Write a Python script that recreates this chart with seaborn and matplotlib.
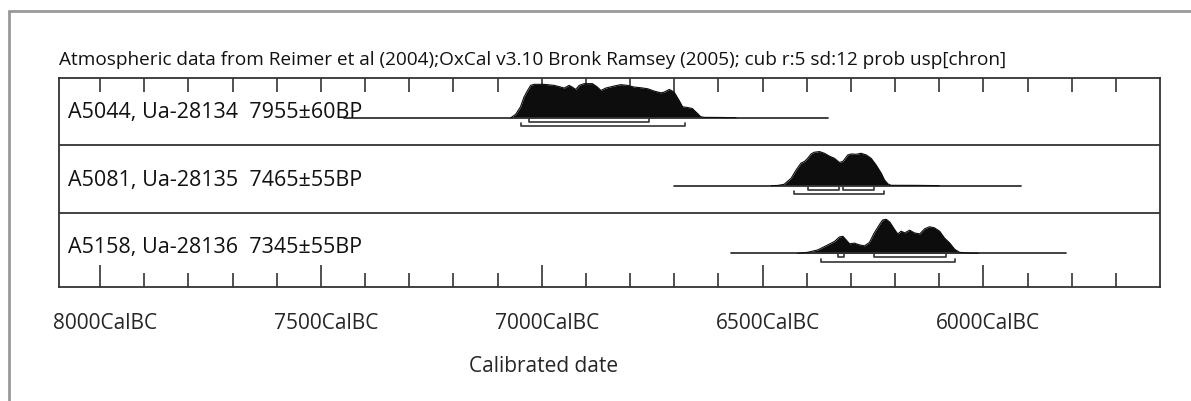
import numpy as np
import matplotlib
matplotlib.use("Agg")
import matplotlib.pyplot as plt
from matplotlib.lines import Line2D
import matplotlib.transforms as mtransforms
import seaborn as sns

# --- data (years BC) ---
labels = ["A5044, Ua-28134  7955±60BP",
          "A5081, Ua-28135  7465±55BP",
          "A5158, Ua-28136  7345±55BP"]

r1_years = [7070, 7059, 7048, 7040, 7032, 7025, 7017, 6995, 6972, 6957, 6949, 6938,
            6931, 6923, 6915, 6904, 6885, 6874, 6866, 6855, 6836, 6821, 6806, 6791,
            6776, 6760, 6745, 6730, 6723, 6711, 6700, 6689, 6681, 6670, 6659, 6647,
            6640, 6632, 6600, 6560]
r1_prob = [0.0, 0.10, 0.32, 0.61, 0.80, 0.95, 0.98, 0.98, 0.95, 0.90, 0.87, 0.95,
           0.90, 0.83, 0.95, 1.0, 1.0, 0.90, 0.80, 0.87, 0.93, 0.97, 0.95, 0.90,
           0.88, 0.85, 0.78, 0.73, 0.75, 0.83, 0.75, 0.51, 0.32, 0.30, 0.27, 0.12,
           0.03, 0.01, 0.008, 0.0]

r2_years = [6480, 6466, 6451, 6435, 6424, 6413, 6405, 6398, 6390, 6383, 6371, 6360,
            6349, 6337, 6326, 6318, 6307, 6299, 6288, 6277, 6265, 6254, 6243, 6231,
            6224, 6216, 6209, 6150, 6100]
r2_prob = [0.0, 0.005, 0.04, 0.22, 0.46, 0.66, 0.71, 0.80, 0.93, 0.98, 1.0, 0.95,
           0.87, 0.80, 0.68, 0.71, 0.90, 0.93, 0.92, 0.95, 0.90, 0.80, 0.61, 0.36,
           0.17, 0.05, 0.01, 0.008, 0.0]

r3_years = [6420, 6398, 6375, 6352, 6337, 6326, 6318, 6311, 6303, 6292, 6281, 6269,
            6258, 6247, 6235, 6228, 6220, 6212, 6201, 6194, 6186, 6178, 6167, 6156,
            6144, 6133, 6122, 6111, 6099, 6088, 6076, 6065, 6054, 6035, 6012]
r3_prob = [0.0, 0.03, 0.10, 0.25, 0.35, 0.48, 0.50, 0.40, 0.28, 0.30, 0.25, 0.22,
           0.32, 0.60, 0.85, 0.98, 1.0, 0.92, 0.70, 0.57, 0.65, 0.60, 0.68, 0.60,
           0.57, 0.72, 0.78, 0.75, 0.65, 0.45, 0.30, 0.12, 0.03, 0.01, 0.0]

# extent of each row's base line
line_start = [7447, 6701, 6571]
line_end = [6351, 5914, 5812]

# 68.2% and 95.4% ranges
ranges_68 = [[(7029, 6757)],
             [(6398, 6326), (6317, 6247)],
             [(6328, 6316), (6248, 6084)]]
ranges_95 = [[(7048, 6676)],
             [(6428, 6226)],
             [(6367, 6065)]]

title = ("Atmospheric data from Reimer et al (2004);OxCal v3.10 Bronk Ramsey (2005); "
         "cub r:5 sd:12 prob usp[chron]")

# --- layout ---
sns.set_theme(style="white")
plt.rcParams["font.family"] = ["Open Sans", "DejaVu Sans"]

fig = plt.figure(figsize=(11.91, 4.01), dpi=100)
ax = fig.add_axes([59 / 1191, 114 / 401, 1101 / 1191, 209 / 401])

row_base = [0.810, 0.485, 0.161]
row_sep = [0.679, 0.354]
peak_h = 0.163
br_off68 = 0.019
br_off95 = 0.040
br_tick = 0.014
ink = "#0d0d0d"
line_col = "#333333"

dists = [(r1_years, r1_prob), (r2_years, r2_prob), (r3_years, r3_prob)]
label_tr = mtransforms.blended_transform_factory(ax.transAxes, ax.transData)

for i, (yrs, prob) in enumerate(dists):
    base = row_base[i]
    x = -np.array(yrs, dtype=float)
    y = base + np.array(prob) * peak_h
    ax.plot([-line_start[i], -line_end[i]], [base, base], color=line_col, lw=1.3)
    ax.fill_between(x, base, y, color=ink, lw=0)
    sns.lineplot(x=x, y=y, ax=ax, color=ink, lw=0.8, sort=False, estimator=None)
    for a, b in ranges_68[i]:
        yb = base - br_off68
        ax.plot([-a, -a, -b, -b], [yb + br_tick, yb, yb, yb + br_tick], color=line_col, lw=1.2)
    for a, b in ranges_95[i]:
        yb = base - br_off95
        ax.plot([-a, -a, -b, -b], [yb + br_tick, yb, yb, yb + br_tick], color=line_col, lw=1.2)
    ax.text(0.008, base, labels[i], transform=label_tr,
            fontsize=15.5, va="baseline", ha="left", color="#111111")

for s in row_sep:
    ax.axhline(s, color=line_col, lw=1.3)

ax.set_xlim(-8093, -5600)
ax.set_ylim(0, 1)
ax.set_yticks([])

major = np.arange(-8000, -5999, 500)
minor = np.arange(-8000, -5600, 100)
ax.set_xticks(major)
ax.set_xticklabels([f"{-v}CalBC" for v in major])
ax.set_xticks(minor, minor=True)
ax.tick_params(axis="x", which="major", direction="in", length=16, width=1.2,
               color=line_col, bottom=True, pad=19, labelsize=15)
ax.tick_params(axis="x", which="minor", direction="in", length=10, width=1.2,
               color=line_col, bottom=True)
offset = mtransforms.ScaledTranslation(5 / 100, 0, fig.dpi_scale_trans)
for lbl in ax.get_xticklabels():
    lbl.set_transform(lbl.get_transform() + offset)

top = ax.secondary_xaxis("top")
top.set_xticks(minor)
top.set_xticklabels([])
top.tick_params(direction="in", length=10, width=1.2, color=line_col)
top.spines["top"].set_visible(False)

for sp in ax.spines.values():
    sp.set_color(line_col)
    sp.set_linewidth(1.3)

ax.set_xlabel("Calibrated date", fontsize=15)
ax.xaxis.set_label_coords((544 - 59) / 1101, -(367 - 287) / 209)
ax.xaxis.label.set_va("center")
ax.text(0.0, 1.0 + 13 / 209, title, transform=ax.transAxes, fontsize=13.7,
        ha="left", va="baseline", color="#111111")

# outer frame
fy = 1 - 11 / 401
fx = 9 / 1191
fig.add_artist(Line2D([fx, 1], [fy, fy], color="#999999", lw=2, transform=fig.transFigure))
fig.add_artist(Line2D([fx, fx], [0, fy], color="#999999", lw=2, transform=fig.transFigure))

fig.savefig("out.png", dpi=100)
